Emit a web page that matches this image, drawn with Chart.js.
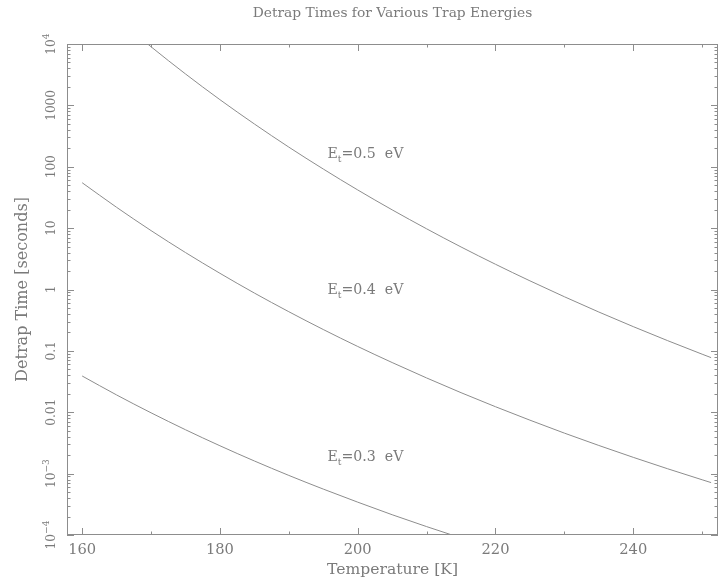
<!DOCTYPE html>
<html>
<head>
<meta charset="utf-8">
<title>Detrap Times for Various Trap Energies</title>
<script src="https://cdn.jsdelivr.net/npm/chart.js@4/dist/chart.umd.min.js"></script>
<style>
  html, body { margin: 0; padding: 0; background: #ffffff; }
  #wrap { width: 719px; height: 582px; }
</style>
</head>
<body>
<div id="wrap"><canvas id="c" width="719" height="582"></canvas></div>
<script>
// Temperature samples [K]
const temperatures = [160, 165, 170, 175, 180, 185, 190, 195, 200, 205, 210, 215, 220, 225, 230, 235, 240, 245, 250, 251.3];

// Detrap time [s] for each trap energy
const tauE05 = [83180, 26490, 9016, 3251, 1239, 497.7, 208.9, 91.83, 41.88, 19.86, 9.750, 4.932, 2.576, 1.384, 0.7621, 0.4295, 0.2483, 0.1466, 0.0883, 0.0776];
const tauE04 = [54.95, 21.83, 9.120, 4.000, 1.837, 0.8750, 0.4345, 0.2228, 0.1180, 0.06457, 0.03622, 0.02084, 0.01230, 0.007430, 0.004571, 0.002877, 0.001841, 0.001199, 0.000794, 0.000714];
const tauE03 = [0.03899, 0.01914, 0.009795, 0.005188, 0.002844, 0.001607, 0.000935, 0.000560, 0.000343, 0.000214, 0.000137, 0.0000895, 0.0000596];

const trapEnergies = ['0.5', '0.4', '0.3'];

// Axis ticks
const xMajorTicks = [160, 180, 200, 220, 240];
const xMinorTicks = [170, 190, 210, 230, 250];
const yDecades = [1e-4, 1e-3, 1e-2, 1e-1, 1, 10, 100, 1000, 1e4];
const yTickLabels = [
  ['10', '\u22124'], ['10', '\u22123'], ['0.01'], ['0.1'], ['1'], ['10'], ['100'], ['1000'], ['10', '4']
];

const titleText = 'Detrap Times for Various Trap Energies';
const xTitle = 'Temperature [K]';
const yTitle = 'Detrap Time [seconds]';

// where the energy captions sit, in data units
const captionTemp = 195.6;
const captionTimes = [167, 1.02, 0.00194];

const lineColor = '#8d8d8d';
const inkColor = '#7a7a7a';
const family = '"DejaVu Serif", "Liberation Serif", serif';

function toPoints(xs, ys) {
  return ys.map((y, i) => ({ x: xs[i], y: y }));
}

function sizeForWidth(ctx, text, width) {
  ctx.font = '100px ' + family;
  return 100 * width / ctx.measureText(text).width;
}

// text runs made of base, sub- and superscript pieces
function pieceWidth(ctx, pieces, size) {
  let w = 0;
  for (const p of pieces) {
    ctx.font = (size * p.scale) + 'px ' + family;
    w += ctx.measureText(p.text).width;
  }
  return w;
}
function drawPieces(ctx, pieces, x, y, size) {
  ctx.textAlign = 'left';
  ctx.textBaseline = 'alphabetic';
  let cx = x;
  for (const p of pieces) {
    ctx.font = (size * p.scale) + 'px ' + family;
    ctx.fillText(p.text, cx, y + p.shift * size);
    cx += ctx.measureText(p.text).width;
  }
}

const framePlugin = {
  id: 'pgFrame',
  afterDraw(chart) {
    const ctx = chart.ctx;
    const a = chart.chartArea;
    const xs = chart.scales.x;
    const ys = chart.scales.y;
    ctx.save();

    // frame
    ctx.strokeStyle = lineColor;
    ctx.lineWidth = 1;
    ctx.strokeRect(a.left + 0.5, a.top + 0.5, a.right - a.left - 1, a.bottom - a.top - 1);

    // x ticks, bottom and top, pointing inward
    ctx.beginPath();
    const tickX = (v, len) => {
      const px = Math.round(xs.getPixelForValue(v)) + 0.5;
      ctx.moveTo(px, a.bottom); ctx.lineTo(px, a.bottom - len);
      ctx.moveTo(px, a.top); ctx.lineTo(px, a.top + len);
    };
    xMajorTicks.forEach(v => tickX(v, 7));
    xMinorTicks.forEach(v => tickX(v, 3.5));

    // y ticks: decades and 2..9 sub-ticks, left and right
    const tickY = (v, len) => {
      const py = Math.round(ys.getPixelForValue(v)) + 0.5;
      ctx.moveTo(a.left, py); ctx.lineTo(a.left + len, py);
      ctx.moveTo(a.right, py); ctx.lineTo(a.right - len, py);
    };
    yDecades.forEach((d, i) => {
      tickY(d, 7);
      if (i < yDecades.length - 1) {
        for (let m = 2; m <= 9; m++) tickY(d * m, 3.5);
      }
    });
    ctx.stroke();

    ctx.fillStyle = inkColor;

    // title
    const tSize = sizeForWidth(ctx, titleText, 280);
    ctx.font = tSize + 'px ' + family;
    ctx.textAlign = 'center';
    ctx.textBaseline = 'middle';
    ctx.fillText(titleText, (a.left + a.right) / 2, 13);

    // x tick labels
    const xlSize = sizeForWidth(ctx, '160', 28);
    ctx.font = xlSize + 'px ' + family;
    ctx.textAlign = 'center';
    ctx.textBaseline = 'alphabetic';
    xMajorTicks.forEach(v => {
      ctx.fillText(String(v), xs.getPixelForValue(v), 549 + xlSize * 0.365);
    });

    // x title
    const xtSize = sizeForWidth(ctx, xTitle, 131);
    ctx.font = xtSize + 'px ' + family;
    ctx.fillText(xTitle, (a.left + a.right) / 2, 568 + xtSize * 0.365);

    // y tick labels, rotated
    const ylSize = sizeForWidth(ctx, '1000', 31);
    yDecades.forEach((d, i) => {
      const lab = yTickLabels[i];
      const pieces = [{ text: lab[0], scale: 1, shift: 0 }];
      if (lab.length > 1) pieces.push({ text: lab[1], scale: 0.75, shift: -0.5 });
      const w = pieceWidth(ctx, pieces, ylSize);
      ctx.save();
      ctx.translate(51, ys.getPixelForValue(d));
      ctx.rotate(-Math.PI / 2);
      drawPieces(ctx, pieces, -w / 2, ylSize * 0.365, ylSize);
      ctx.restore();
    });

    // y title, rotated
    const ytSize = sizeForWidth(ctx, yTitle, 185);
    ctx.save();
    ctx.translate(21, (a.top + a.bottom) / 2);
    ctx.rotate(-Math.PI / 2);
    ctx.font = ytSize + 'px ' + family;
    ctx.textAlign = 'center';
    ctx.textBaseline = 'alphabetic';
    ctx.fillText(yTitle, 0, ytSize * 0.365);
    ctx.restore();

    // energy captions
    const capPieces = e => [
      { text: 'E', scale: 1, shift: 0 },
      { text: 't', scale: 0.65, shift: 0.28 },
      { text: '=' + e + '  eV', scale: 1, shift: 0 }
    ];
    const cSize = 76 / pieceWidth(ctx, capPieces('0.5'), 1);
    trapEnergies.forEach((e, i) => {
      const px = xs.getPixelForValue(captionTemp);
      const py = ys.getPixelForValue(captionTimes[i]);
      drawPieces(ctx, capPieces(e), px, py + cSize * 0.365, cSize);
    });

    ctx.restore();
  }
};

const curveStyle = {
  borderColor: lineColor,
  borderWidth: 1,
  pointRadius: 0,
  fill: false,
  cubicInterpolationMode: 'monotone',
  clip: 0
};

new Chart(document.getElementById('c'), {
  type: 'line',
  data: {
    datasets: [
      Object.assign({ label: 'Et=0.5 eV', data: toPoints(temperatures, tauE05) }, curveStyle),
      Object.assign({ label: 'Et=0.4 eV', data: toPoints(temperatures, tauE04) }, curveStyle),
      Object.assign({ label: 'Et=0.3 eV', data: toPoints(temperatures, tauE03) }, curveStyle)
    ]
  },
  options: {
    responsive: false,
    animation: false,
    devicePixelRatio: 1,
    layout: { padding: { left: 67, right: 1, top: 44, bottom: 47 } },
    plugins: { legend: { display: false }, tooltip: { enabled: false }, title: { display: false } },
    scales: {
      x: { type: 'linear', min: 157.8, max: 252.3, display: false },
      y: { type: 'logarithmic', min: 1e-4, max: 1e4, display: false }
    }
  },
  plugins: [framePlugin]
});
</script>
</body>
</html>
